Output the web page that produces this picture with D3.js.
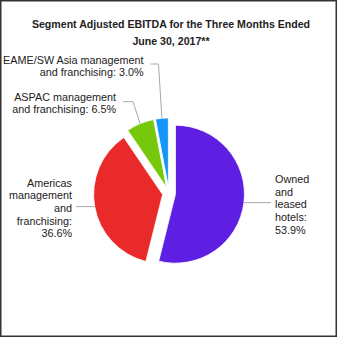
<!DOCTYPE html>
<html>
<head>
<meta charset="utf-8">
<script src="https://cdn.jsdelivr.net/npm/d3@7/dist/d3.min.js"></script>
<style>
  html, body { margin: 0; padding: 0; background: #fff; }
  svg { display: block; }
  text { font-family: Arial, "Liberation Sans", sans-serif; fill: #222; }
</style>
</head>
<body>
<svg id="chart" width="338" height="338"></svg>
<script>
// ---- data ----
const categories = [
  "Owned and leased hotels",
  "Americas management and franchising",
  "ASPAC management and franchising",
  "EAME/SW Asia management and franchising"
];
const values = [53.9, 36.6, 6.5, 3.0];
const labelLines = [
  ["Owned", "and", "leased", "hotels:", "53.9%"],
  ["Americas", "management", "and", "franchising:", "36.6%"],
  ["ASPAC management", "and franchising: 6.5%"],
  ["EAME/SW Asia management", "and franchising: 3.0%"]
];
const titleLines = ["Segment Adjusted EBITDA for the Three Months Ended", "June 30, 2017**"];
const colors = ["#5e1fe3", "#ea2a2a", "#76c80d", "#1595f8"];

// ---- layout ----
const W = 338, H = 338;
const cx = 169, cy = 193.4, R = 69, explode = 6.5;
const titleSize = 10.6, fontSize = 10.8, lineH = 12.6;
// label layout: anchor, x, first baseline, leader elbow (null = straight horizontal)
const labelLayout = [
  { anchor: "start", x: 275, y: 183.2, lineEnd: 271, elbow: null },
  { anchor: "end",   x: 72,  y: 186.7, lineEnd: 76,  elbow: null },
  { anchor: "end",   x: 116, y: 100.5, lineEnd: 123, elbow: [133, 101.7] },
  { anchor: "end",   x: 143.5, y: 63.5,  lineEnd: 150.5, elbow: [158.5, 64] }
];

const svg = d3.select("#chart");

// frame
svg.append("rect")
  .attr("x", 0.75).attr("y", 0.75)
  .attr("width", W - 2.5).attr("height", H - 2.5)
  .attr("fill", "none").attr("stroke", "#333").attr("stroke-width", 1.5);

// title
svg.append("text")
  .attr("text-anchor", "middle")
  .attr("font-weight", "bold")
  .attr("font-size", titleSize)
  .selectAll("tspan").data(titleLines).join("tspan")
  .attr("x", 171)
  .attr("y", (d, i) => 28.3 + i * 16.3)
  .text(d => d);

const pie = d3.pie().sort(null).value(d => d);
const arcs = pie(values);
const arc = d3.arc().innerRadius(0).outerRadius(R);

const g = svg.append("g").attr("transform", `translate(${cx},${cy})`);

const mid = a => (a.startAngle + a.endAngle) / 2;
const off = a => [Math.sin(mid(a)) * explode, -Math.cos(mid(a)) * explode];

g.selectAll("path.slice").data(arcs).join("path")
  .attr("class", "slice")
  .attr("transform", a => `translate(${off(a)[0]},${off(a)[1]})`)
  .attr("d", arc)
  .attr("fill", (a, i) => colors[i])
  .attr("stroke", "#fff")
  .attr("stroke-width", 0.8);

// leader lines
arcs.forEach((a, i) => {
  const o = off(a);
  const ex = cx + o[0] + Math.sin(mid(a)) * R;
  const ey = cy + o[1] - Math.cos(mid(a)) * R;
  const L = labelLayout[i];
  let pts;
  if (L.elbow) {
    pts = [[ex, ey], L.elbow, [L.lineEnd, L.elbow[1]]];
  } else {
    pts = [[ex, ey], [L.lineEnd, ey]];
  }
  svg.append("path")
    .attr("d", d3.line()(pts))
    .attr("fill", "none")
    .attr("stroke", "#a8a8a8")
    .attr("stroke-width", 1);
});

// labels
labelLines.forEach((lines, i) => {
  const L = labelLayout[i];
  svg.append("text")
    .attr("font-size", fontSize)
    .attr("text-anchor", L.anchor)
    .selectAll("tspan").data(lines).join("tspan")
    .attr("x", L.x)
    .attr("y", (d, k) => L.y + k * lineH)
    .text(d => d);
});
</script>
</body>
</html>
